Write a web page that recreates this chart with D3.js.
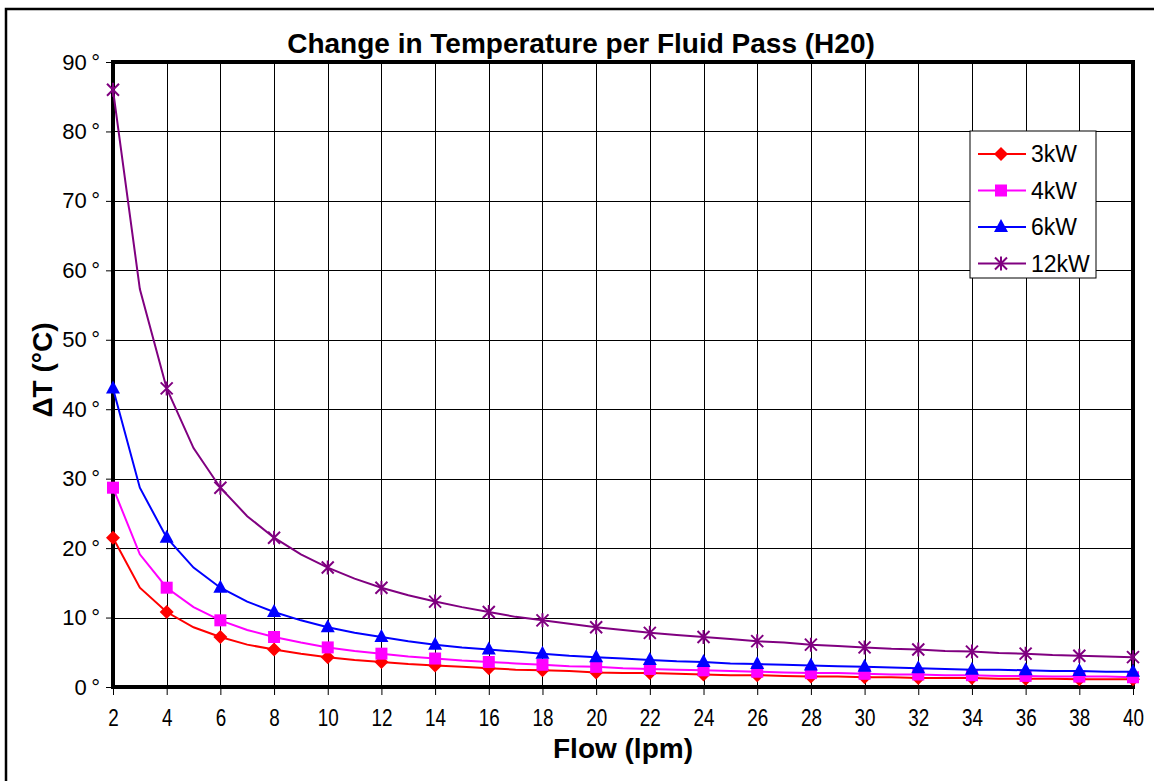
<!DOCTYPE html>
<html>
<head>
<meta charset="utf-8">
<script src="https://cdn.jsdelivr.net/npm/d3@7"></script>
<style>
  body { margin: 0; background: #fff; }
  svg { display: block; font-family: "Liberation Sans", Arial, sans-serif; }
</style>
</head>
<body>
<svg id="chart" width="1154" height="781"></svg>
<script>
// flow in lpm, one reading per integer step
const flows = d3.range(2, 41);
const xTicks = d3.range(2, 41, 2);
const yTicks = d3.range(0, 91, 10);

const kw3 = [21.5, 14.3, 10.8, 8.6, 7.2, 6.1, 5.4, 4.8, 4.3, 3.9, 3.6, 3.3, 3.1, 2.9, 2.7, 2.5, 2.4, 2.3, 2.1, 2.0,
  2.0, 1.9, 1.8, 1.7, 1.7, 1.6, 1.5, 1.5, 1.4, 1.4, 1.3, 1.3, 1.3, 1.2, 1.2, 1.2, 1.1, 1.1, 1.1];
const kw4 = [28.7, 19.1, 14.3, 11.5, 9.6, 8.2, 7.2, 6.4, 5.7, 5.2, 4.8, 4.4, 4.1, 3.8, 3.6, 3.4, 3.2, 3.0, 2.9, 2.7,
  2.6, 2.5, 2.4, 2.3, 2.2, 2.1, 2.0, 2.0, 1.9, 1.8, 1.8, 1.7, 1.7, 1.6, 1.6, 1.5, 1.5, 1.5, 1.4];
const kw6 = [43.0, 28.7, 21.5, 17.2, 14.3, 12.3, 10.8, 9.6, 8.6, 7.8, 7.2, 6.6, 6.1, 5.7, 5.4, 5.1, 4.8, 4.5, 4.3, 4.1,
  3.9, 3.7, 3.6, 3.4, 3.3, 3.2, 3.1, 3.0, 2.9, 2.8, 2.7, 2.6, 2.5, 2.5, 2.4, 2.3, 2.3, 2.2, 2.2];
const kw12 = [86.0, 57.3, 43.0, 34.4, 28.7, 24.6, 21.5, 19.1, 17.2, 15.6, 14.3, 13.2, 12.3, 11.5, 10.8, 10.1, 9.6, 9.1, 8.6, 8.2,
  7.8, 7.5, 7.2, 6.9, 6.6, 6.4, 6.1, 5.9, 5.7, 5.5, 5.4, 5.2, 5.1, 4.9, 4.8, 4.6, 4.5, 4.4, 4.3];

const seriesNames = ["3kW", "4kW", "6kW", "12kW"];
const seriesValues = [kw3, kw4, kw6, kw12];
const seriesColors = ["#ff0000", "#ff00ff", "#0000ff", "#800080"];
const seriesMarkers = ["diamond", "square", "triangle", "star"];

const svg = d3.select("#chart");
const margin = { top: 62, right: 21, bottom: 94, left: 113 };
const width = 1154, height = 781;

// outer chart frame
svg.append("rect")
  .attr("x", 6).attr("y", 9)
  .attr("width", 1200).attr("height", 900)
  .attr("fill", "none").attr("stroke", "#000").attr("stroke-width", 2.5);

const x = d3.scaleLinear().domain([2, 40]).range([margin.left, width - margin.right]);
const y = d3.scaleLinear().domain([0, 90]).range([height - margin.bottom, margin.top]);

// grid
svg.append("g")
  .attr("transform", `translate(0,${height - margin.bottom})`)
  .call(d3.axisBottom(x).tickValues(xTicks).tickSize(-(height - margin.top - margin.bottom)).tickFormat(""))
  .call(g => g.select(".domain").remove())
  .selectAll("line").attr("stroke", "#000").attr("shape-rendering", "crispEdges");
svg.append("g")
  .attr("transform", `translate(${margin.left},0)`)
  .call(d3.axisLeft(y).tickValues(yTicks).tickSize(-(width - margin.left - margin.right)).tickFormat(""))
  .call(g => g.select(".domain").remove())
  .selectAll("line").attr("stroke", "#000").attr("shape-rendering", "crispEdges");

// plot frame
svg.append("rect")
  .attr("x", margin.left).attr("y", margin.top)
  .attr("width", width - margin.left - margin.right)
  .attr("height", height - margin.top - margin.bottom)
  .attr("fill", "none").attr("stroke", "#000").attr("stroke-width", 4);

// axes
const xAxis = svg.append("g")
  .attr("transform", `translate(0,${height - margin.bottom})`)
  .call(d3.axisBottom(x).tickValues(xTicks).tickSize(8).tickPadding(15).tickSizeOuter(0));
xAxis.select(".domain").remove();
xAxis.selectAll("text")
  .attr("font-size", 23)
  .attr("transform", "scale(0.82,1)")
  .attr("fill", "#000");

const yAxis = svg.append("g")
  .attr("transform", `translate(${margin.left},0)`)
  .call(d3.axisLeft(y).tickValues(yTicks).tickSize(7).tickPadding(6).tickFormat(d => d + "\u2009°").tickSizeOuter(0));
yAxis.select(".domain").remove();
yAxis.selectAll("text").attr("font-size", 22).attr("fill", "#000");

// titles
svg.append("text")
  .attr("x", 581).attr("y", 53)
  .attr("text-anchor", "middle")
  .attr("font-size", 28).attr("font-weight", "bold")
  .text("Change in Temperature per Fluid Pass (H20)");

svg.append("text")
  .attr("x", 623).attr("y", 758)
  .attr("text-anchor", "middle")
  .attr("font-size", 28).attr("font-weight", "bold")
  .text("Flow (lpm)");

svg.append("text")
  .attr("transform", "translate(52,370) rotate(-90)")
  .attr("text-anchor", "middle")
  .attr("font-size", 28).attr("font-weight", "bold")
  .text("ΔT (°C)");

function drawMarker(g, type, color) {
  if (type === "diamond") {
    g.append("path").attr("d", "M0,-7L7,0L0,7L-7,0Z").attr("fill", color);
  } else if (type === "square") {
    g.append("rect").attr("x", -6).attr("y", -6).attr("width", 12).attr("height", 12).attr("fill", color);
  } else if (type === "triangle") {
    g.append("path").attr("d", "M0,-8L7,5L-7,5Z").attr("fill", color);
  } else {
    g.append("path").attr("d", "M-6,-6L6,6M-6,6L6,-6M0,-7L0,7")
      .attr("stroke", color).attr("stroke-width", 2).attr("fill", "none");
  }
}

const line = d3.line().x(d => x(d[0])).y(d => y(d[1]));

seriesValues.forEach((vals, i) => {
  const pts = flows.map((f, j) => [f, vals[j]]);
  svg.append("path")
    .datum(pts)
    .attr("fill", "none")
    .attr("stroke", seriesColors[i])
    .attr("stroke-width", 2)
    .attr("d", line);
  pts.filter(p => p[0] % 2 === 0).forEach(p => {
    const g = svg.append("g").attr("transform", `translate(${x(p[0])},${y(p[1])})`);
    drawMarker(g, seriesMarkers[i], seriesColors[i]);
  });
});

// legend
const legend = svg.append("g").attr("transform", "translate(970,131)");
legend.append("rect")
  .attr("width", 126).attr("height", 147)
  .attr("fill", "#fff").attr("stroke", "#000").attr("stroke-width", 1);
seriesNames.forEach((name, i) => {
  const ly = 23 + i * 36.5;
  legend.append("line")
    .attr("x1", 8).attr("x2", 56).attr("y1", ly).attr("y2", ly)
    .attr("stroke", seriesColors[i]).attr("stroke-width", 2);
  const g = legend.append("g").attr("transform", `translate(31,${ly})`);
  drawMarker(g, seriesMarkers[i], seriesColors[i]);
  legend.append("text")
    .attr("x", 61).attr("y", ly + 8)
    .attr("font-size", 23)
    .text(name);
});
</script>
</body>
</html>
